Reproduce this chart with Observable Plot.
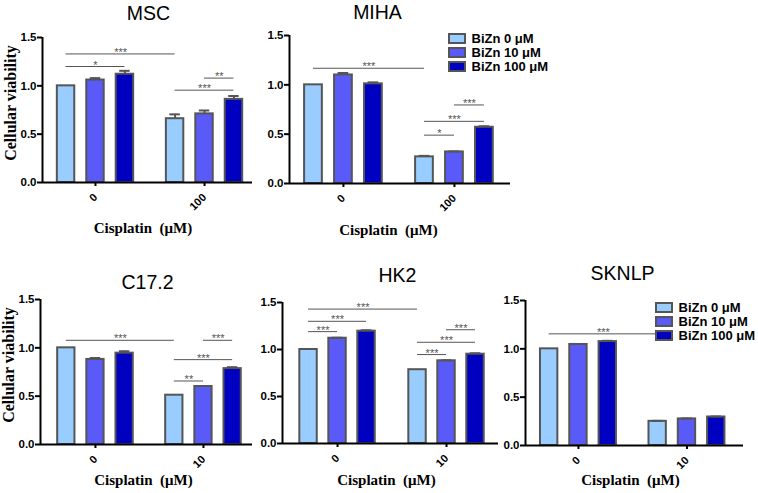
<!DOCTYPE html>
<html>
<head>
<meta charset="utf-8">
<script src="https://cdn.jsdelivr.net/npm/d3@7"></script>
<script src="https://cdn.jsdelivr.net/npm/@observablehq/plot@0.6"></script>
<style>
  html, body { margin: 0; padding: 0; background: #fff; }
  #wrap { position: relative; width: 758px; height: 493px; overflow: hidden; background: #fff; }
  .panel { position: absolute; }
  .panel [aria-label="y-axis tick label"] { font-size: 11.5px; font-weight: bold; }
  .panel [aria-label="x-axis tick label"] { font-size: 11px; font-weight: bold; }
  .lg { position: absolute; color: #000; }
  .lg, .lg * { font-family: "Liberation Sans", Arial, sans-serif !important; font-size: 13px !important; font-weight: bold !important; line-height: 13px !important; }
  .lg svg rect { stroke: #555; stroke-width: 2px; }
  .lg svg { overflow: visible; }
</style>
</head>
<body>
<div id="wrap"></div>
<script>
// ---- data ----
const series = ["BiZn 0 \u03bcM", "BiZn 10 \u03bcM", "BiZn 100 \u03bcM"];
const colors = ["#99ccff", "#5a5af8", "#0000c0"];
const cisplatinTop = ["0", "100"];
const cisplatinBottom = ["0", "10"];

const mscValues   = [1.00, 1.06, 1.12, 0.66, 0.71, 0.86];
const mscErrors   = [0, 0.02, 0.035, 0.045, 0.035, 0.035];
const mihaValues  = [1.00, 1.10, 1.01, 0.27, 0.32, 0.57];
const mihaErrors  = [0, 0.02, 0.015, 0.01, 0.005, 0.01];
const c172Values  = [1.00, 0.88, 0.945, 0.51, 0.60, 0.785];
const c172Errors  = [0, 0.015, 0.02, 0, 0.005, 0.015];
const hk2Values   = [1.00, 1.12, 1.195, 0.785, 0.88, 0.95];
const hk2Errors   = [0, 0.005, 0.01, 0, 0.005, 0.01];
const sknlpValues = [1.00, 1.045, 1.075, 0.25, 0.275, 0.295];
const sknlpErrors = [0, 0.005, 0.008, 0.005, 0.005, 0.005];

// significance: [fromGroup, fromSeries, toGroup, toSeries, yValue, label]
const mscSig   = [[0,0,1,0,1.33,"***"],[0,0,0,2,1.20,"*"],[1,0,1,2,0.955,"***"],[1,1,1,2,1.08,"**"]];
const mihaSig  = [[0,0,1,0,1.168,"***"],[1,1,1,2,0.796,"***"],[1,0,1,2,0.63,"***"],[1,0,1,1,0.49,"*"]];
const c172Sig  = [[0,0,1,0,1.078,"***"],[1,1,1,2,1.078,"***"],[1,0,1,2,0.878,"***"],[1,0,1,1,0.657,"**"]];
const hk2Sig   = [[0,0,1,0,1.43,"***"],[0,0,0,2,1.30,"***"],[0,0,0,1,1.19,"***"],[1,1,1,2,1.21,"***"],[1,0,1,2,1.077,"***"],[1,0,1,1,0.946,"***"]];
const sknlpSig = [[0,0,1,0,1.155,"***"]];

const yTicks = [0, 0.5, 1.0, 1.5];

// ---- layout (styles / positions) ----
const panels = [
  {title:"MSC", values:mscValues, errors:mscErrors, sig:mscSig, cis:cisplatinTop, ylabel:true,
   left:0, top:0, width:258, height:245, mL:42, mR:6, mT:37, mB:63, dom:[-0.486, 1.44],
   tdx:1, tdy:-18, xdx:-4.5, xdy:46, step:0.27, bw:0.16},
  {title:"MIHA", values:mihaValues, errors:mihaErrors, sig:mihaSig, cis:cisplatinTop, ylabel:false,
   left:255, top:0, width:265, height:245, mL:34, mR:10, mT:35, mB:62, dom:[-0.486, 1.505],
   tdx:-22.5, tdy:-17, xdx:-11.5, xdy:47, step:0.27, bw:0.16},
  {title:"C17.2", values:c172Values, errors:c172Errors, sig:c172Sig, cis:cisplatinBottom, ylabel:true,
   left:0, top:250, width:258, height:243, mL:40, mR:6, mT:49, mB:49, dom:[-0.509, 1.454],
   tdx:1, tdy:-11, xdx:-3, xdy:36, step:0.27, bw:0.16},
  {title:"HK2", values:hk2Values, errors:hk2Errors, sig:hk2Sig, cis:cisplatinBottom, ylabel:false,
   left:250, top:250, width:255, height:243, mL:32, mR:7, mT:52, mB:50, dom:[-0.505, 1.477],
   tdx:7, tdy:-21, xdx:-4, xdy:37, step:0.266, bw:0.16},
  {title:"SKNLP", values:sknlpValues, errors:sknlpErrors, sig:sknlpSig, cis:cisplatinBottom, ylabel:false,
   left:495, top:250, width:263, height:243, mL:30, mR:15, mT:50, mB:48, dom:[-0.488, 1.521],
   tdx:-12, tdy:-21, xdx:-4, xdy:35, step:0.27, bw:0.16}
];

const wrap = document.getElementById("wrap");
const sans = "Liberation Sans, Arial, sans-serif";
const serif = "Liberation Serif, Times New Roman, serif";

for (const p of panels) {
  const pos = (g, s) => g + (s - 1) * p.step;
  const bars = p.values.map((v, i) => ({g: Math.floor(i / 3), s: i % 3, value: v, err: p.errors[i], name: series[i % 3]}));
  const sig = p.sig.map(([g1, s1, g2, s2, y, label]) => ({x1: pos(g1, s1), x2: pos(g2, s2), y, label}));
  const capW = p.bw * 0.6;

  const marks = [
    Plot.rect(bars, {x1: d => pos(d.g, d.s) - p.bw / 2, x2: d => pos(d.g, d.s) + p.bw / 2, y1: 0, y2: "value",
      fill: "name", stroke: "#555", strokeWidth: 2, inset: 0}),
    Plot.ruleX(bars.filter(d => d.err > 0), {x: d => pos(d.g, d.s), y1: "value", y2: d => d.value + d.err, stroke: "#555", strokeWidth: 2}),
    Plot.ruleY(bars.filter(d => d.err > 0), {y: d => d.value + d.err, x1: d => pos(d.g, d.s) - capW / 2, x2: d => pos(d.g, d.s) + capW / 2, stroke: "#555", strokeWidth: 2}),
    Plot.ruleX([p.dom[0]], {stroke: "#000", strokeWidth: 2}),
    Plot.ruleY([0], {stroke: "#000", strokeWidth: 2}),
    Plot.axisY({ticks: yTicks, tickFormat: d3.format(".1f"), tickSize: 5, tickPadding: 1, strokeWidth: 2,
      fontSize: 11.5, fontWeight: "bold", label: null}),
    Plot.axisX({ticks: [0, 1], tickFormat: d => p.cis[d], tickRotate: -45, tickSize: 4, tickPadding: 9, strokeWidth: 2,
      fontSize: 11, fontWeight: "bold", label: null}),
    Plot.ruleY(sig, {x1: "x1", x2: "x2", y: "y", stroke: "#555", strokeWidth: 1}),
    Plot.text(sig, {x: d => (d.x1 + d.x2) / 2, y: "y", text: "label", lineAnchor: "bottom", dy: 2,
      fill: "#555", fontSize: 11, letterSpacing: 1.5}),
    Plot.text([p.title], {frameAnchor: "top", dx: p.tdx, dy: p.tdy, lineAnchor: "bottom", fontSize: 19.5, fontFamily: sans}),
    Plot.text(["Cisplatin\u00a0 (\u03bcM)"], {frameAnchor: "bottom", dx: p.xdx, dy: p.xdy, lineAnchor: "middle",
      fontSize: 15, fontWeight: "bold", fontFamily: serif})
  ];
  if (p.ylabel) {
    marks.push(Plot.text(["Cellular viability"], {frameAnchor: "left", rotate: -90, textAnchor: "middle", lineAnchor: "middle",
      dx: -32, dy: -7, fontSize: 16, fontWeight: "bold", fontFamily: serif}));
  }

  const chart = Plot.plot({
    width: p.width, height: p.height,
    marginLeft: p.mL, marginRight: p.mR, marginTop: p.mT, marginBottom: p.mB,
    style: {background: "transparent", overflow: "visible", fontFamily: sans, color: "#000"},
    x: {type: "linear", domain: p.dom, axis: null},
    y: {domain: [0, 1.5], axis: null},
    color: {domain: series, range: colors},
    marks
  });
  chart.classList.add("panel");
  chart.style.left = p.left + "px";
  chart.style.top = p.top + "px";
  wrap.appendChild(chart);
}

// legends
for (const [left, top] of [[449, 32], [656, 301]]) {
  const lg = Plot.legend({color: {type: "ordinal", domain: series, range: colors},
    columns: 1, swatchWidth: 16, swatchHeight: 9});
  const box = document.createElement("div");
  box.className = "lg";
  box.style.left = left + "px";
  box.style.top = top + "px";
  box.appendChild(lg);
  wrap.appendChild(box);
}
</script>
</body>
</html>
